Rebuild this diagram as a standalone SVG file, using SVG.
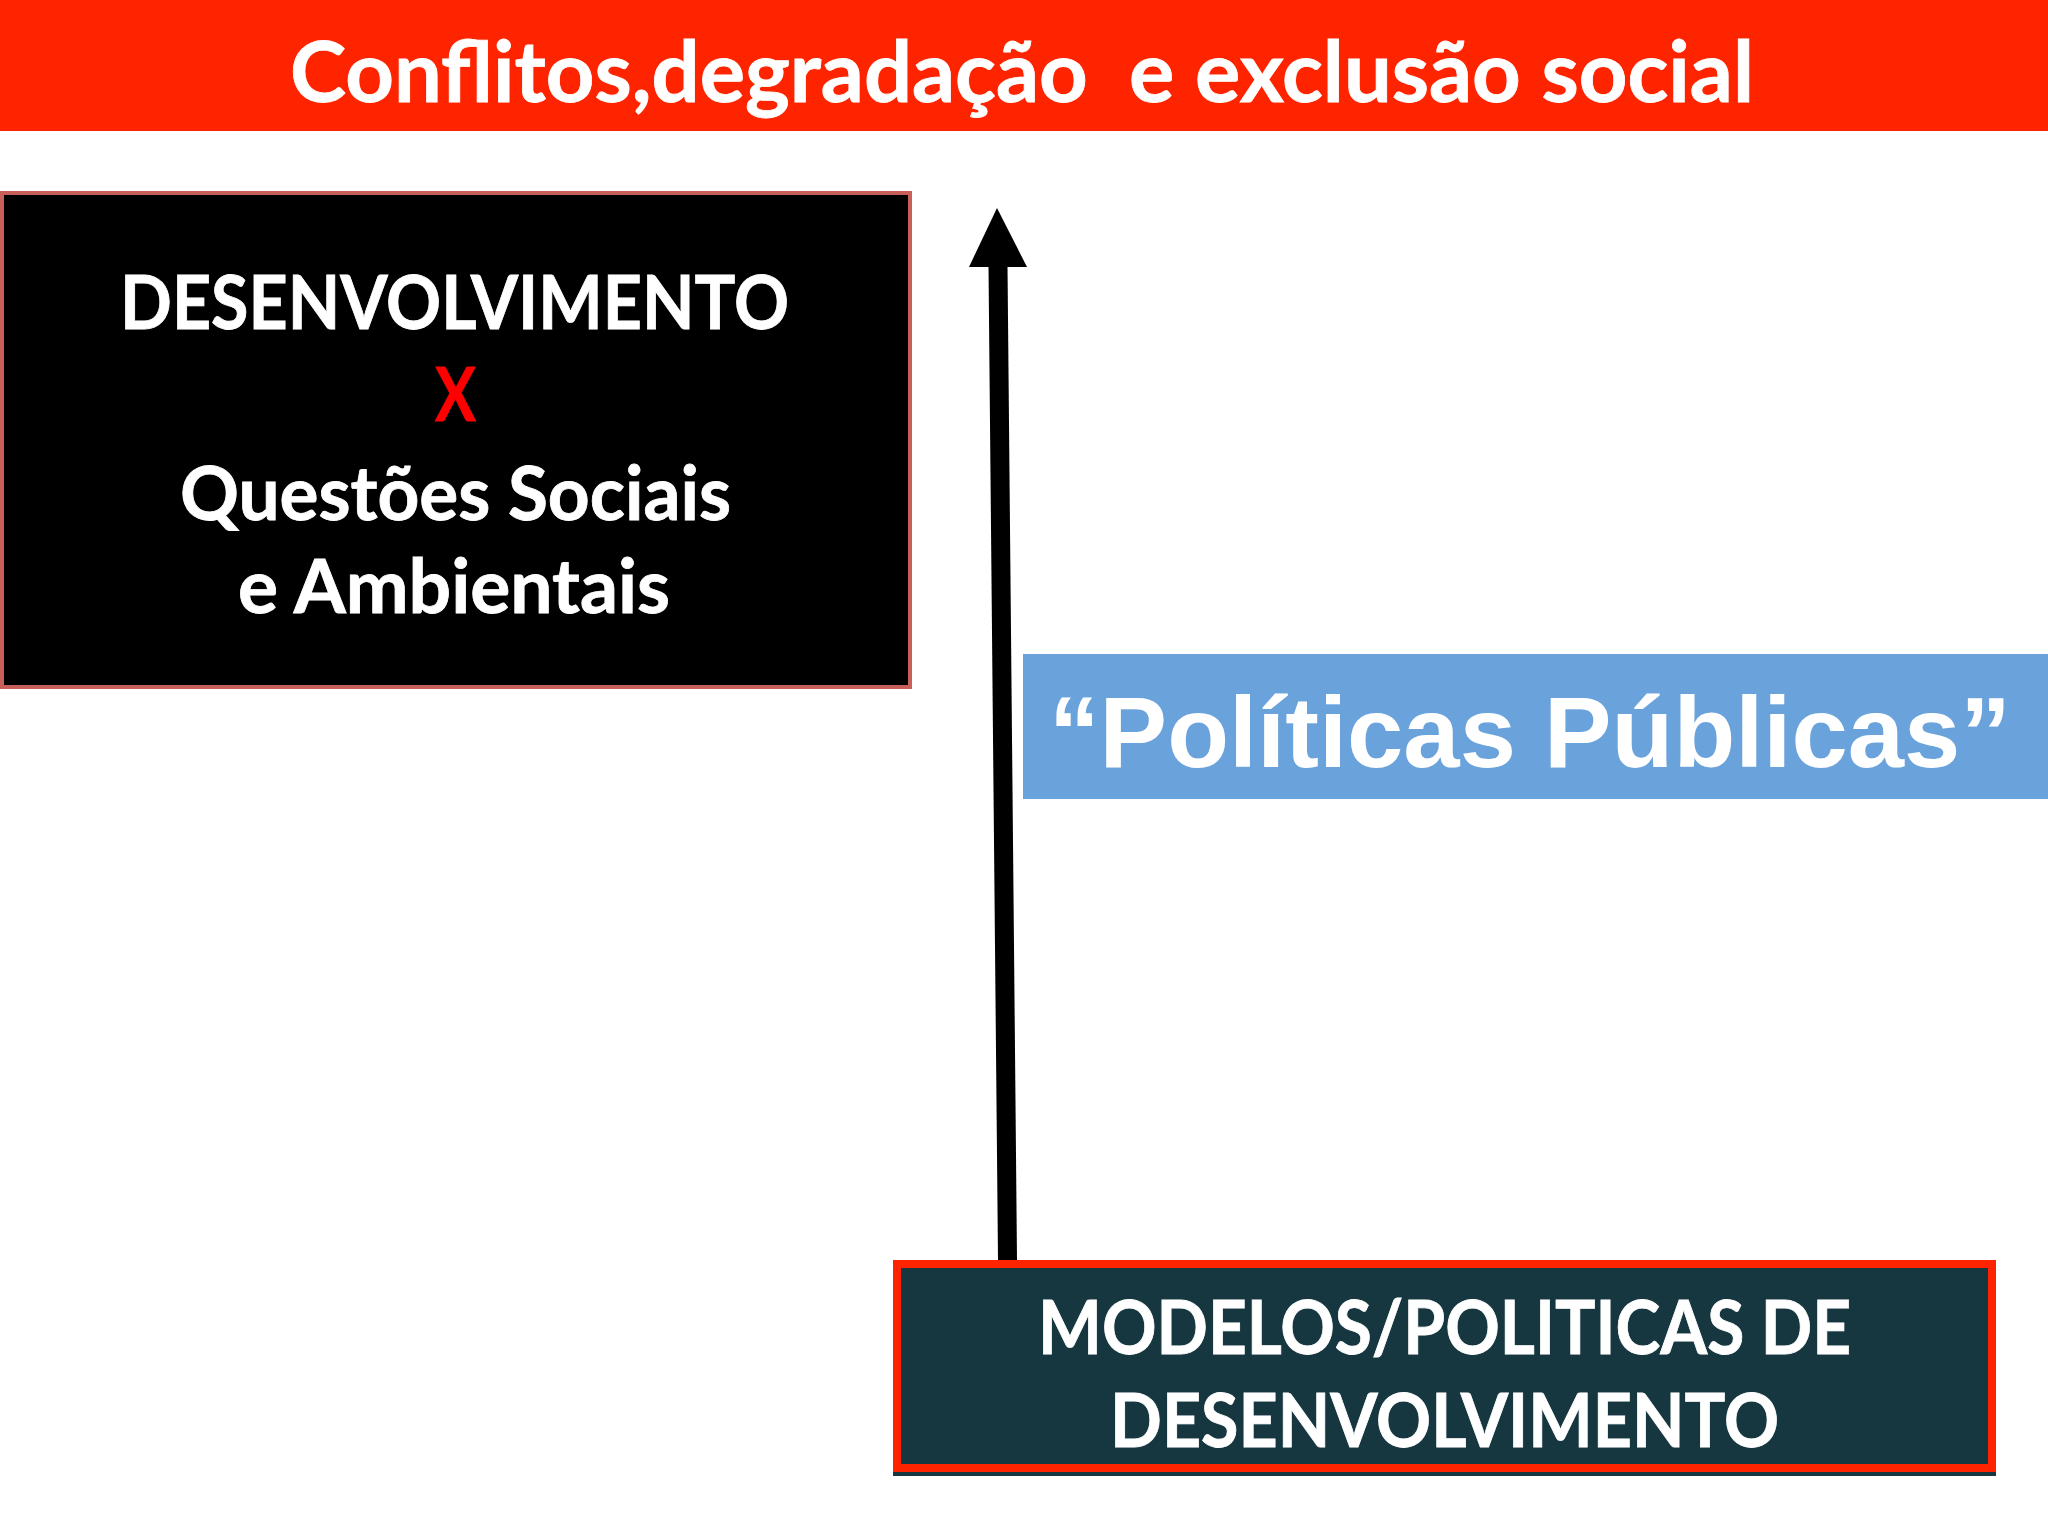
<svg xmlns="http://www.w3.org/2000/svg" width="2048" height="1536" viewBox="0 0 2048 1536">
<style>
.cal{font-family:Lato,"Open Sans","Liberation Sans",sans-serif;font-weight:bold;fill:#ffffff;stroke:#ffffff;stroke-width:0.8;white-space:pre}
.red{fill:#ff0000;stroke:#ff0000}
.ari{font-family:"Liberation Sans",Arial,sans-serif;font-weight:bold;fill:#ffffff}
</style>
<rect width="2048" height="1536" fill="#ffffff"/>
<g id="title">
<rect x="0" y="0" width="2048" height="131" fill="#ff2400"/>
<text class="cal" x="290" y="102" font-size="85" textLength="1464" lengthAdjust="spacingAndGlyphs" xml:space="preserve">Conflitos,degradação  e exclusão social</text>
</g>
<g id="conflito">
<rect x="2" y="193" width="908" height="494" fill="#000000" stroke="#c8605a" stroke-width="4"/>
<text class="cal" x="120" y="329" font-size="75" textLength="669" lengthAdjust="spacingAndGlyphs">DESENVOLVIMENTO</text>
<text class="cal red" x="435" y="421" font-size="75" textLength="41" lengthAdjust="spacingAndGlyphs">X</text>
<text class="cal" x="180" y="520" font-size="75" textLength="551" lengthAdjust="spacingAndGlyphs">Questões Sociais</text>
<text class="cal" x="238" y="613" font-size="75" textLength="432" lengthAdjust="spacingAndGlyphs">e Ambientais</text>
</g>
<g id="politicas">
<rect x="1023" y="654" width="1025" height="145" fill="#6aa2dc"/>
<text class="ari" x="1049" y="767" font-size="101" textLength="962" lengthAdjust="spacingAndGlyphs">“Políticas Públicas”</text>
</g>
<g id="modelos">
<rect x="893" y="1266" width="1103" height="210" fill="#163640"/>
<rect x="897" y="1264" width="1095" height="204" fill="#163640" stroke="#ff2400" stroke-width="8"/>
<text class="cal" x="1038" y="1354" font-size="75" textLength="813" lengthAdjust="spacingAndGlyphs">MODELOS/POLITICAS DE</text>
<text class="cal" x="1110" y="1447" font-size="75" textLength="669" lengthAdjust="spacingAndGlyphs">DESENVOLVIMENTO</text>
</g>
<g id="connectors">
<polygon points="988.5,266 998,1260 1017,1260 1007.5,266" fill="#000000"/>
<polygon points="969,267 997,208 1027,267" fill="#000000"/>
</g>
</svg>
